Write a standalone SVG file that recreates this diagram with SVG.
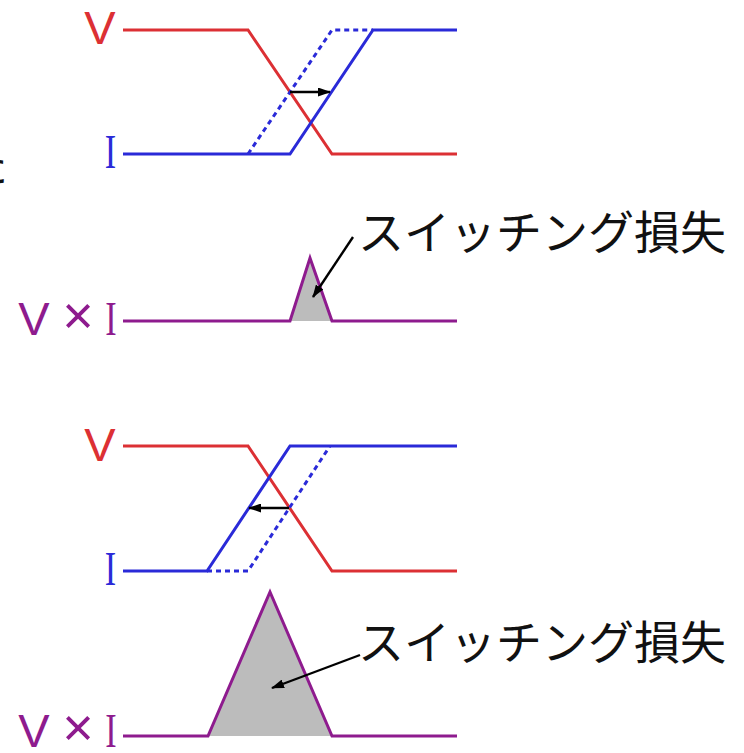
<svg xmlns="http://www.w3.org/2000/svg" width="744" height="753" viewBox="0 0 744 753">
  <style>
    .v { stroke: #dc3034; stroke-width: 3; fill: none; }
    .i { stroke: #2a2ad8; stroke-width: 3; fill: none; }
    .dash { stroke-dasharray: 5 4; }
    .p { stroke: #8e1b8e; stroke-width: 3; fill: none; }
    .area { fill: #bcbcbc; stroke: none; }
    .arr { stroke: #000; stroke-width: 2.4; fill: none; marker-end: url(#head); }
    .lv { font-family: "Liberation Sans", Arial, sans-serif; font-size: 47px; }
    .lx { font-family: "Liberation Sans", Arial, sans-serif; font-size: 54px; }
    .li { font-family: "Liberation Serif", "Times New Roman", serif; font-size: 49px; }
    .jp { font-family: "Noto Sans CJK JP", "Noto Sans CJK SC", sans-serif; font-size: 46px; fill: #111; }
  </style>
  <defs>
    <marker id="head" viewBox="0 0 13 9" refX="12" refY="4.5" markerWidth="13" markerHeight="9" markerUnits="userSpaceOnUse" orient="auto">
      <path d="M0,0 L13,4.5 L0,9 Z" fill="#000"/>
    </marker>
  </defs>
  <rect width="744" height="753" fill="#fff"/>

  <!-- clipped glyph at left margin -->
  <text class="jp" x="-38" y="182">た</text>

  <!-- upper plot: current edge delayed -->
  <g id="plot-delayed">
    <text class="lv" x="100" y="44" text-anchor="middle" fill="#dc3034">V</text>
    <text class="li" x="0" y="0" text-anchor="middle" fill="#2a2ad8" transform="translate(110.5,168) scale(0.7,1)">I</text>
    <path class="v" d="M123,30 H248 L332,154 H457"/>
    <path class="i" d="M123,154 H290 L373,30 H457"/>
    <path class="i dash" d="M248,154 L332,30 H373"/>
  </g>

  <!-- upper power product -->
  <g id="power-small">
    <text class="lv" x="34" y="335" text-anchor="middle" fill="#8e1b8e">V</text>
    <text class="lx" x="78" y="334" text-anchor="middle" fill="#8e1b8e">×</text>
    <text class="li" x="0" y="0" text-anchor="middle" fill="#8e1b8e" transform="translate(111,335) scale(0.7,1)">I</text>
    <polygon class="area" points="290,321 310,258 332,321"/>
    <path class="p" d="M123,321 H290 L310,258 L332,321 H457"/>
    <text class="jp" x="358" y="249">スイッチング損失</text>
  </g>

  <!-- lower plot: current edge advanced -->
  <g id="plot-advanced">
    <text class="lv" x="100" y="461" text-anchor="middle" fill="#dc3034">V</text>
    <text class="li" x="0" y="0" text-anchor="middle" fill="#2a2ad8" transform="translate(110.5,585) scale(0.7,1)">I</text>
    <path class="v" d="M123,446 H248 L332,571 H457"/>
    <path class="i" d="M123,571 H207 L290,446 H457"/>
    <path class="i dash" d="M207,571 H248 L330,446"/>
  </g>

  <!-- lower power product -->
  <g id="power-large">
    <text class="lv" x="34" y="747" text-anchor="middle" fill="#8e1b8e">V</text>
    <text class="lx" x="78" y="746" text-anchor="middle" fill="#8e1b8e">×</text>
    <text class="li" x="0" y="0" text-anchor="middle" fill="#8e1b8e" transform="translate(111,747) scale(0.7,1)">I</text>
    <polygon class="area" points="208,736 270,592 332,736"/>
    <path class="p" d="M123,736 H208 L270,592 L332,736 H457"/>
    <text class="jp" x="358" y="659">スイッチング損失</text>
  </g>

  <!-- connectors -->
  <g id="connectors">
    <line class="arr" x1="290" y1="92" x2="330" y2="92"/>
    <line class="arr" x1="289" y1="508" x2="249" y2="508"/>
    <line class="arr" x1="353" y1="237" x2="313" y2="297"/>
    <line class="arr" x1="360" y1="655" x2="272" y2="688"/>
  </g>
</svg>
